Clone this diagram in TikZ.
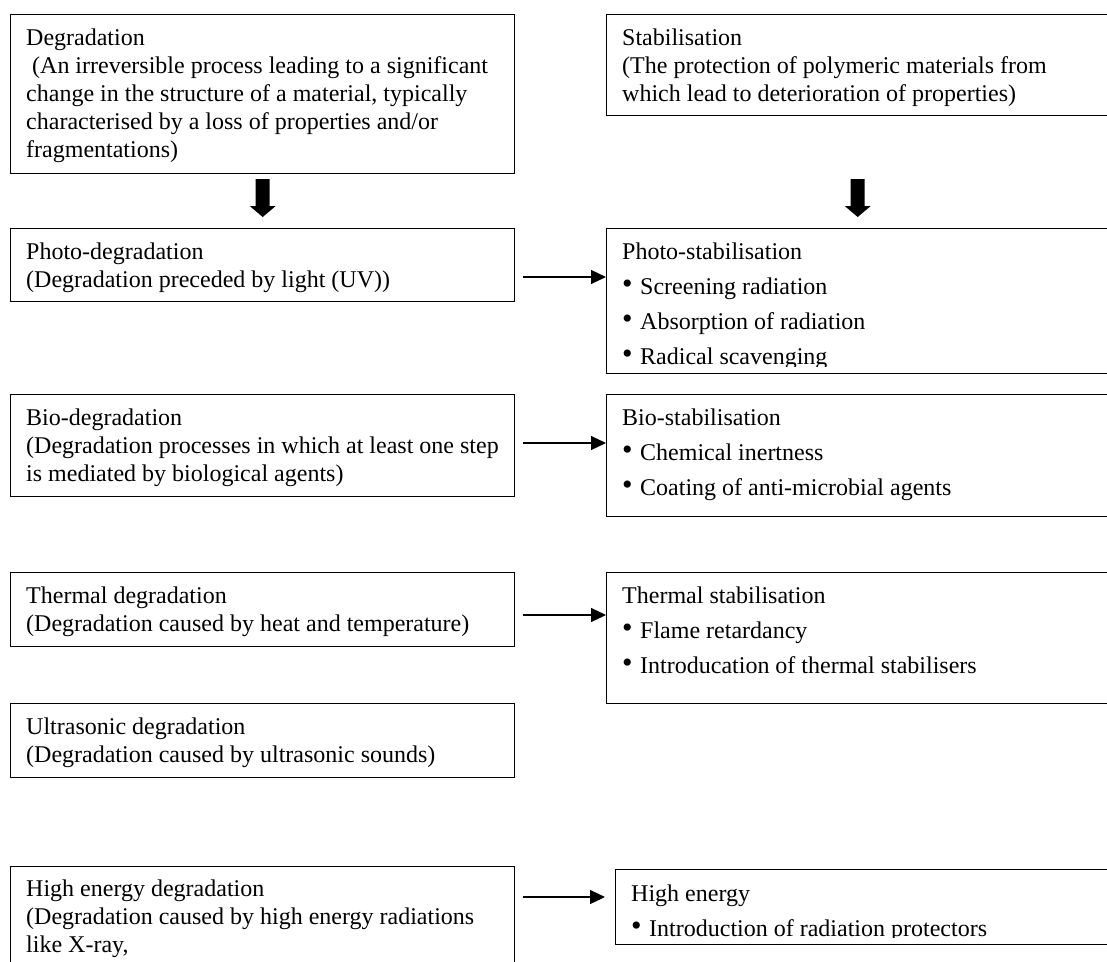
\documentclass[tikz,border=0pt]{standalone}
\usepackage{fontspec}
\setmainfont{Liberation Serif}
\usetikzlibrary{arrows.meta,calc}

% one text block, first baseline = block baseline
\newcommand{\lines}[1]{\begin{tabular}[t]{@{}l@{}}#1\end{tabular}}
% list bullet
\newcommand{\itm}{\makebox[18pt][l]{\raisebox{1pt}{\fontsize{30}{30}\selectfont •}}}
% thick downward arrow between two boxes (tip just above the lower box)
\newcommand{\bigdown}[2]{%
  \coordinate (#1-tip) at ($(#2.north -| #1.south)+(0,-11)$);
  \fill ($(#1-tip)+(-7,-38)$) -- ($(#1-tip)+(7,-38)$) -- ($(#1-tip)+(7,-11)$)
     -- ($(#1-tip)+(13,-11)$) -- (#1-tip) -- ($(#1-tip)+(-13,-11)$)
     -- ($(#1-tip)+(-7,-11)$) -- cycle;}

\begin{document}
\begin{tikzpicture}[x=1pt,y=-1pt,
  box/.style={draw, line width=1.4pt, anchor=north west, inner sep=0pt},
  lbox/.style={box, minimum width=504pt},
  rbox/.style={box, minimum width=502pt},
  txt/.style={anchor=base west, inner sep=0pt, font=\fontsize{24}{28}\selectfont},
  ltxt/.style={txt, font=\fontsize{24}{35}\selectfont},
  conn/.style={line width=1.2pt, -{Triangle[length=15pt,width=14pt]}}]

\fill[white] (0,0) rectangle (1107,961);
\clip (0,0) rectangle (1107,961);

% ---- left column: kinds of degradation ----
\node[lbox, minimum height=159pt] (deg) at (10,14) {};
\node[txt] (degT) at ($(deg.north west)+(16,31)$) {\lines{Degradation\\
\ (An irreversible process leading to a significant\\
change in the structure of a material, typically\\
characterised by a loss of properties and/or\\
fragmentations)}};

\node[lbox, minimum height=73pt] (photo) at (10,228) {};
\node[txt] (photoT) at ($(photo.north west)+(16,31)$) {\lines{Photo-degradation\\
(Degradation preceded by light (UV))}};

\node[lbox, minimum height=102pt] (bio) at (10,394) {};
\node[txt] (bioT) at ($(bio.north west)+(16,31)$) {\lines{Bio-degradation\\
(Degradation processes in which at least one step\\
is mediated by biological agents)}};

\node[lbox, minimum height=74pt] (therm) at (10,572) {};
\node[txt] (thermT) at ($(therm.north west)+(16,31)$) {\lines{Thermal degradation\\
(Degradation caused by heat and temperature)}};

\node[lbox, minimum height=74pt] (ultra) at (10,703) {};
\node[txt] (ultraT) at ($(ultra.north west)+(16,31)$) {\lines{Ultrasonic degradation\\
(Degradation caused by ultrasonic sounds)}};

\node[lbox, minimum height=134pt] (hideg) at (10,866) {};
\node[txt] (hidegT) at ($(hideg.north west)+(16,30)$) {\lines{High energy degradation\\
(Degradation caused by high energy radiations\\
like X-ray,}};

% ---- right column: matching stabilisation ----
\node[rbox, minimum height=101pt] (stab) at (606,14) {};
\node[txt] (stabT) at ($(stab.north west)+(16,31)$) {\lines{Stabilisation\\
(The protection of polymeric materials from\\
which lead to deterioration of properties)}};

\node[rbox, minimum height=145pt] (photostab) at (606,228) {};
\begin{scope}
  \clip (photostab.north west) rectangle ($(photostab.south east)+(0,-8)$);
  \node[ltxt] (photostabT) at ($(photostab.north west)+(16,31)$) {\lines{Photo-stabilisation\\
  \itm Screening radiation\\ \itm Absorption of radiation\\ \itm Radical scavenging}};
\end{scope}

\node[rbox, minimum height=122pt] (biostab) at (606,394) {};
\begin{scope}
  \clip (biostab.north west) rectangle ($(biostab.south east)+(0,-8)$);
  \node[ltxt] (biostabT) at ($(biostab.north west)+(16,31)$) {\lines{Bio-stabilisation\\
  \itm Chemical inertness\\ \itm Coating of anti-microbial agents}};
\end{scope}

\node[rbox, minimum height=131pt] (thermstab) at (606,572) {};
\begin{scope}
  \clip (thermstab.north west) rectangle ($(thermstab.south east)+(0,-8)$);
  \node[ltxt] (thermstabT) at ($(thermstab.north west)+(16,31)$) {\lines{Thermal stabilisation\\
  \itm Flame retardancy\\ \itm Introducation of thermal stabilisers}};
\end{scope}

\node[box, minimum width=500pt, minimum height=75pt] (histab) at (615,869) {};
\begin{scope}
  \clip (histab.north west) rectangle ($(histab.south east)+(0,-8)$);
  \node[ltxt] (histabT) at ($(histab.north west)+(16,32)$) {\lines{High energy\\
  \itm Introduction of radiation protectors}};
\end{scope}

% ---- connectors ----
\bigdown{deg}{photo}
\bigdown{stab}{photostab}

\coordinate (pa) at ($(photo.north east)+(8,49)$);
\coordinate (ba) at ($(bio.north east)+(8,49)$);
\coordinate (ta) at ($(therm.north east)+(8,43)$);
\coordinate (ha) at ($(hideg.north east)+(8,31)$);
\draw[conn] (pa) -- (pa -| photostab.west);
\draw[conn] (ba) -- (ba -| biostab.west);
\draw[conn] (ta) -- (ta -| thermstab.west);
\draw[conn] (ha) -- ($(ha -| histab.west)+(-10,0)$);
\end{tikzpicture}
\end{document}
